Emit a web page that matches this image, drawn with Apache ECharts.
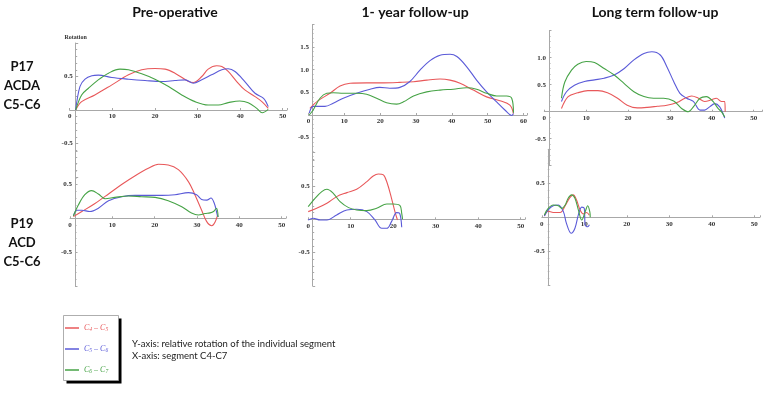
<!DOCTYPE html>
<html><head><meta charset="utf-8">
<script src="https://cdn.jsdelivr.net/npm/echarts@6/dist/echarts.min.js"></script>
<style>html,body{margin:0;padding:0;background:#fff}#c{width:765px;height:394px}</style>
</head><body><div id="c"></div>
<script>
// ---------- data ----------
const seriesNames = ['C4 – C5', 'C5 – C6', 'C6 – C7'];
const columnTitles = ['Pre-operative', '1- year follow-up', 'Long term follow-up'];
const rowLabels = [['P17', 'ACDA', 'C5-C6'], ['P19', 'ACD', 'C5-C6']];
const noteLines = ['Y-axis: relative rotation of the individual segment', 'X-axis: segment C4-C7'];
const xTicks = [0, 10, 20, 30, 40, 50, 60];

// P17 pre-operative
const p17Pre_C45 = [[1.4,0],[2.8,0.125],[5.9,0.225],[9.9,0.375],[13.8,0.525],[16.9,0.6],[20.0,0.62],[22.4,0.61],[24.7,0.55],[27.9,0.425],[29.0,0.41],[31.0,0.5],[32.5,0.61],[34.5,0.66],[35.7,0.65],[37.2,0.575],[39.2,0.425],[41.1,0.3],[43.5,0.2],[45.1,0.125],[46.6,0.025]];
const p17Pre_C56 = [[1.4,0],[2.4,0.35],[3.6,0.46],[5.2,0.51],[6.7,0.52],[9.9,0.485],[13.8,0.46],[17.7,0.44],[21.6,0.425],[24.7,0.44],[27.1,0.45],[29.0,0.4],[31.0,0.45],[33.3,0.525],[35.7,0.6],[37.2,0.615],[38.8,0.575],[41.1,0.425],[43.5,0.25],[45.5,0.175],[46.6,0.05]];
const p17Pre_C67 = [[1.4,0],[2.8,0.225],[4.4,0.325],[6.7,0.45],[9.1,0.55],[11.8,0.61],[13.8,0.6],[16.9,0.54],[20.0,0.46],[23.2,0.35],[26.3,0.225],[29.4,0.125],[32.5,0.075],[34.9,0.075],[37.2,0.11],[39.9,0.135],[41.9,0.11],[43.9,0.025],[45.2,-0.04],[46.6,0.01]];
// P17 1-year follow-up
const p17Y1_C45 = [[0.4,0.147],[2.7,0.316],[6.0,0.48],[8.8,0.64],[11.6,0.70],[16.2,0.71],[20.9,0.71],[25.5,0.72],[29.3,0.735],[33.0,0.77],[36.7,0.794],[39.5,0.77],[42.3,0.70],[46.0,0.55],[49.7,0.40],[53.4,0.316],[56.2,0.22],[57.2,0.03]];
const p17Y1_C56 = [[0.2,0.04],[1.3,0.19],[2.7,0.19],[4.6,0.19],[6.9,0.26],[9.7,0.37],[13.4,0.48],[17.2,0.57],[19.9,0.61],[22.7,0.59],[25.5,0.61],[28.3,0.74],[31.1,0.99],[33.9,1.20],[36.7,1.32],[39.5,1.34],[41.4,1.29],[44.1,1.07],[46.9,0.77],[49.7,0.51],[52.5,0.29],[54.8,0.11],[56.7,-0.01],[57.2,0.03]];
const p17Y1_C67 = [[0.2,0],[1.3,0.11],[3.2,0.37],[5.1,0.48],[6.9,0.49],[9.7,0.48],[13.4,0.48],[16.2,0.46],[19.0,0.37],[21.8,0.27],[24.6,0.24],[26.5,0.29],[29.3,0.42],[33.0,0.51],[36.7,0.55],[40.4,0.57],[44.1,0.60],[46.9,0.57],[49.7,0.48],[52.5,0.42],[55.3,0.42],[56.7,0.37],[57.2,0.05]];
// P17 long term follow-up
const p17Lt_C45 = [[4.1,0.06],[5.7,0.28],[8.0,0.35],[10.4,0.39],[12.8,0.39],[15.1,0.35],[17.5,0.25],[19.8,0.12],[22.2,0.07],[24.6,0.08],[27.0,0.10],[29.3,0.12],[31.7,0.17],[33.6,0.25],[35.2,0.29],[36.8,0.25],[38.3,0.19],[39.9,0.22],[41.1,0.25],[42.3,0.19],[43.1,0.19],[43.2,0.0]];
const p17Lt_C56 = [[4.1,0.19],[5.3,0.37],[7.2,0.49],[9.6,0.56],[12.0,0.59],[14.3,0.62],[16.7,0.68],[19.1,0.80],[21.4,0.96],[23.8,1.08],[25.7,1.11],[27.7,1.05],[29.3,0.83],[30.9,0.56],[32.4,0.34],[34.0,0.25],[35.6,0.19],[37.2,0.03],[38.3,0.03],[39.5,0.09],[40.7,0.15],[41.9,0.09],[42.8,-0.06],[43.1,-0.12]];
const p17Lt_C67 = [[4.1,0.25],[4.9,0.55],[6.5,0.77],[8.0,0.88],[10.0,0.93],[12.0,0.91],[14.3,0.80],[16.7,0.68],[19.1,0.52],[21.4,0.37],[23.8,0.28],[26.1,0.25],[28.5,0.25],[30.9,0.20],[32.8,0.06],[34.4,0.0],[35.6,0.09],[37.2,0.25],[38.7,0.28],[40.3,0.19],[41.5,0.06],[42.3,0.0],[43.1,-0.1]];
// P19 pre-operative
const p19Pre_C45 = [[0.8,0.025],[2.8,0.10],[5.9,0.22],[9.1,0.36],[12.2,0.50],[15.4,0.63],[18.5,0.74],[20.9,0.80],[23.2,0.79],[25.6,0.72],[28.0,0.54],[29.5,0.35],[31.1,0.12],[32.3,-0.05],[33.5,-0.11],[34.3,-0.05],[34.9,0.05]];
const p19Pre_C56 = [[0.8,0.035],[1.6,0.12],[2.8,0.12],[4.7,0.10],[6.7,0.15],[9.1,0.26],[12.2,0.32],[15.4,0.34],[18.5,0.34],[21.7,0.34],[24.8,0.35],[28.0,0.38],[29.9,0.35],[31.1,0.28],[32.3,0.27],[33.3,0.30],[34.1,0.22],[34.6,0.10],[34.9,0.02]];
const p19Pre_C67 = [[0.8,0.035],[2.0,0.20],[3.5,0.35],[5.1,0.41],[6.7,0.36],[8.3,0.29],[10.6,0.31],[13.8,0.33],[16.9,0.32],[20.1,0.31],[23.2,0.26],[26.4,0.17],[28.7,0.08],[30.3,0.05],[31.9,0.07],[33.1,0.08],[33.9,0.10],[34.6,0.15],[35.0,0.02]];
// P19 1-year follow-up
const p19Y1_C45 = [[0.0,0.115],[2.0,0.165],[4.4,0.24],[6.7,0.34],[9.1,0.40],[11.4,0.45],[13.8,0.565],[15.3,0.65],[16.5,0.68],[17.7,0.665],[18.6,0.54],[19.6,0.315],[20.4,0.115],[21.0,-0.01]];
const p19Y1_C56 = [[0.0,-0.01],[1.2,0.015],[2.8,-0.01],[4.4,-0.01],[6.7,0.065],[9.1,0.14],[11.4,0.15],[13.8,0.115],[15.7,-0.01],[17.3,-0.135],[18.5,-0.135],[19.6,-0.035],[20.8,0.10],[21.5,0.09],[22.0,-0.12]];
const p19Y1_C67 = [[0.0,0.19],[1.6,0.315],[3.2,0.415],[4.4,0.45],[5.9,0.39],[7.5,0.265],[9.5,0.175],[11.4,0.14],[13.8,0.13],[16.1,0.165],[18.5,0.23],[20.0,0.23],[21.6,0.205],[22.0,0.09],[22.2,0.0]];
// P19 long term follow-up
const p19Lt_C45 = [[0.6,0.02],[1.5,0.09],[2.7,0.07],[4.3,0.07],[5.5,0.17],[6.6,0.29],[7.4,0.33],[8.2,0.25],[9.0,0.11],[9.8,0.05],[10.5,0.07],[11.2,0.03]];
const p19Lt_C56 = [[0.6,0.02],[1.5,0.11],[2.7,0.17],[3.9,0.18],[5.1,0.08],[5.8,-0.09],[6.9,-0.235],[7.8,-0.16],[8.6,0.035],[9.4,0.15],[10.0,0.13],[10.2,-0.11],[10.8,-0.14],[11.2,-0.11]];
const p19Lt_C67 = [[0.6,0.035],[1.5,0.13],[2.7,0.18],[3.9,0.17],[4.7,0.13],[5.5,0.18],[6.2,0.28],[7.0,0.33],[7.8,0.28],[8.6,0.11],[9.4,-0.04],[10.2,0.08],[10.8,0.17],[11.3,0.08],[11.4,0.0]];

// ---------- layout / style ----------
const colors = ['#e8585a', '#5a5ad8', '#46a346'];
const panels = [
  {g:{left:69.7, top:43,   width:217.3, height:134},   xmax:51, ymin:-1, ymax:1,   yoff:-6,   hide:[1],   name:'Rotation', data:[p17Pre_C45,p17Pre_C56,p17Pre_C67]},
  {g:{left:308.5,top:24.4, width:218.6, height:135.9}, xmax:61, ymin:-1, ymax:2,   yoff:-3.5, hide:[2],   data:[p17Y1_C45,p17Y1_C56,p17Y1_C67]},
  {g:{left:544.3,top:30.7, width:220.1, height:135},   xmax:52, ymin:-1, ymax:1.5, yoff:-4.7, hide:[1.5], data:[p17Lt_C45,p17Lt_C56,p17Lt_C67]},
  {g:{left:70,   top:150.8,width:215.9, height:135},   xmax:51, ymin:-1, ymax:1,   yoff:-5,   hide:[1],   data:[p19Pre_C45,p19Pre_C56,p19Pre_C67]},
  {g:{left:308.2,top:152.6,width:216.8, height:133.4}, xmax:51, ymin:-1, ymax:1,   yoff:-4.5, hide:[1],   data:[p19Y1_C45,p19Y1_C56,p19Y1_C67]},
  {g:{left:541.8,top:149.3,width:218,   height:136},   xmax:51.3,ymin:-1, ymax:1,  yoff:-6,   hide:[1],   data:[p19Lt_C45,p19Lt_C56,p19Lt_C67]}
];
const axisColor = '#a8a8a8';
const tickFont = {fontFamily:'Liberation Serif', fontWeight:'bold', fontSize:7, color:'#333'};

const grid = [], xAxis = [], yAxis = [], series = [];
panels.forEach((p, i) => {
  grid.push(Object.assign({containLabel:false}, p.g));
  // distance from the grid bottom up to the y = 0 level
  const zeroLift = p.g.height * (0 - p.ymin) / (p.ymax - p.ymin);
  xAxis.push({
    type:'value', gridIndex:i, min:0, max:p.xmax, interval:10, position:'bottom', offset:-zeroLift,
    axisLine:{onZero:false, lineStyle:{color:axisColor, width:1}},
    axisTick:{show:true, inside:true, length:2, lineStyle:{color:axisColor}},
    splitLine:{show:false},
    axisLabel:Object.assign({margin:3, formatter:v => xTicks.indexOf(v) >= 0 ? String(v) : ''}, tickFont)
  });
  yAxis.push({
    type:'value', gridIndex:i, min:p.ymin, max:p.ymax, interval:0.5, offset:p.yoff,
    name:p.name || '', nameLocation:'end', nameGap:3,
    nameTextStyle:{fontFamily:'Liberation Serif', fontWeight:'bold', fontSize:6, color:'#333'},
    axisLine:{show:true, onZero:false, lineStyle:{color:axisColor, width:1}},
    axisTick:{show:true, inside:true, length:2.5, lineStyle:{color:axisColor}},
    minorTick:{show:true, splitNumber:5, length:1.5, lineStyle:{color:axisColor}},
    splitLine:{show:false},
    axisLabel:Object.assign({margin:3, formatter:v => {
      if (Math.abs(v) < 1e-9 || v <= -1 + 1e-9) return '';
      if (p.hide.some(h => Math.abs(h - v) < 1e-9)) return '';
      return v.toFixed(1);
    }}, tickFont)
  });
  p.data.forEach((d, k) => {
    series.push({
      type:'line', name:seriesNames[k], xAxisIndex:i, yAxisIndex:i, data:d,
      smooth:0.35, showSymbol:false, symbol:'none',
      lineStyle:{color:colors[k], width:1.1}, itemStyle:{color:colors[k]}, z:3
    });
  });
});

const graphic = [];
const titleX = [175, 415, 655];
columnTitles.forEach((t, i) => graphic.push({type:'text', x:titleX[i], y:12, z:10,
  style:{text:t, font:'bold 14px Lato', fill:'#111', textAlign:'center', textVerticalAlign:'middle', align:'center', verticalAlign:'middle'}}));
const rowY = [[67, 86, 105], [224, 243, 262]];
rowLabels.forEach((rows, r) => rows.forEach((t, j) => graphic.push({type:'text', x:22, y:rowY[r][j], z:10,
  style:{text:t, font:'bold 13px Lato', fill:'#111', textAlign:'center', textVerticalAlign:'middle', align:'center', verticalAlign:'middle'}})));
noteLines.forEach((t, j) => graphic.push({type:'text', x:132, y:344 + j*12, z:10,
  style:{text:t, font:'9.5px Lato', fill:'#222', textAlign:'left', textVerticalAlign:'middle', align:'left', verticalAlign:'middle'}}));
// legend frame with hard shadow
graphic.push({type:'rect', shape:{x:66.5, y:318.5, width:55, height:65}, style:{fill:'#000'}, z:0});
graphic.push({type:'rect', shape:{x:63.5, y:315.5, width:55, height:65}, style:{fill:'#fff', stroke:'#999', lineWidth:0.8}, z:1});

const option = {
  animation:false,
  backgroundColor:'#fff',
  grid, xAxis, yAxis, series, graphic,
  legend:{
    orient:'vertical', left:65, top:323, padding:0, itemGap:11, itemWidth:14, itemHeight:1.5, icon:'rect',
    data:seriesNames.map((n, i) => ({name:n, itemStyle:{color:colors[i]}, textStyle:{color:colors[i]}})),
    formatter:n => { const m = n.match(/C(\d) – C(\d)/); return '{c|C}{s|' + m[1] + '}{c| – C}{s|' + m[2] + '}'; },
    textStyle:{fontFamily:'Liberation Serif', fontStyle:'italic', fontSize:8, lineHeight:10,
      rich:{c:{fontFamily:'Liberation Serif', fontStyle:'italic', fontSize:8, lineHeight:10},
            s:{fontFamily:'Liberation Serif', fontStyle:'italic', fontSize:5.5, lineHeight:10, padding:[4,0,0,0]}}}
  }
};
const chart = echarts.init(document.getElementById('c'), null, {renderer:'canvas'});
chart.setOption(option);
</script></body></html>
